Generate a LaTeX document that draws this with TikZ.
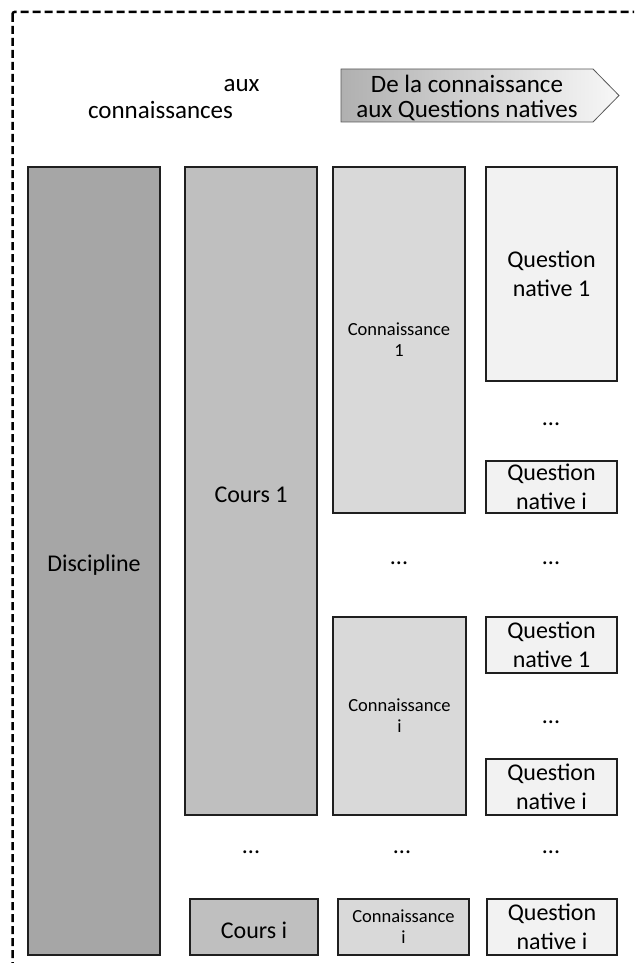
\documentclass[tikz,border=0pt]{standalone}
\usepackage{fontspec}
\setmainfont{Carlito}
\begin{document}
\begin{tikzpicture}[x=1pt,y=-1pt,
  box/.style={draw=black!88, line width=1.4pt, inner sep=0pt, outer sep=0pt, align=center, font=\fontsize{24}{29}\selectfont, execute at begin node={\rule{0pt}{1em}}},
  small/.style={font=\fontsize{18.5}{21}\selectfont},
  dots/.style={inner sep=0pt, font=\fontsize{24}{28}\selectfont},
  disc/.style={box, fill=black!35},
  crs/.style={box, fill=black!25},
  cnn/.style={box, fill=black!15},
  qst/.style={box, fill=black!5},
  title/.style={inner sep=0pt, align=center, font=\fontsize{25}{25}\selectfont}
]
\useasboundingbox (0,0) rectangle (634,963);
% dashed frame
\begin{scope}
\clip (0,0) rectangle (634,963);
\draw[line width=2.5pt, dash pattern=on 8pt off 4pt, rounded corners=2pt] (12.5,12) coordinate (f1) rectangle (645,980) coordinate (f2);
\end{scope}
% header texts
\node[title, anchor=base] (aux) at (241.5,92) {aux};
\node[title, anchor=base] (conns) at (160.5,118) {connaissances};
\path[draw=black!65, line width=0.8pt, left color=black!31, right color=black!3]
  (341,69) coordinate (a1) -- (593,69) -- (619,95.5) coordinate (a2) -- (593,122) -- (341,122) -- cycle;
\node[title] (arrow) at (467,98) {De la connaissance\\aux Questions natives};
% column 1
\node[disc, minimum width=132pt, minimum height=788pt] (discipline) at (94,561) {Discipline};
% column 2
\node[crs, minimum width=132pt, minimum height=648pt] (cours1) at (251,491) {Cours 1};
\node[dots] (d21) at (251,852) {...};
\node[crs, minimum width=128pt, minimum height=56pt] (coursi) at (254,927) {Cours i};
% column 3
\node[cnn, small, minimum width=132pt, minimum height=346pt] (conn1) at (399,340) {Connaissance\\1};
\node[dots] (d31) at (399,563) {...};
\node[cnn, small, minimum width=133pt, minimum height=198pt] (conni) at (399.5,716) {Connaissance\\i};
\node[dots] (d32) at (402,852) {...};
\node[cnn, small, minimum width=131pt, minimum height=56pt] (connib) at (403.5,927) {Connaissance\\i};
% column 4
\node[qst, minimum width=131pt, minimum height=214pt] (qn1a) at (551.5,274) {Question\\native 1};
\node[dots] (d41) at (551,424) {...};
\node[qst, minimum width=131pt, minimum height=52pt] (qnia) at (551.5,487) {Question\\native i};
\node[dots] (d42) at (551,563) {...};
\node[qst, minimum width=131pt, minimum height=56pt] (qn1b) at (551.5,645) {Question\\native 1};
\node[dots] (d43) at (551,722) {...};
\node[qst, minimum width=131pt, minimum height=56pt] (qnib) at (551.5,787) {Question\\native i};
\node[dots] (d44) at (551,852) {...};
\node[qst, minimum width=130pt, minimum height=56pt] (qnic) at (552,927) {Question\\native i};
\end{tikzpicture}
\end{document}
